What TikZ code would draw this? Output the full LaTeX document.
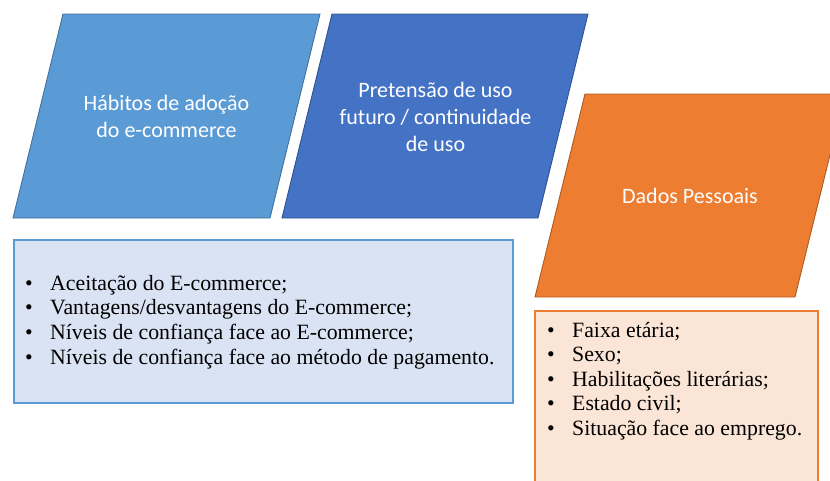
\documentclass[tikz,border=0pt]{standalone}
\usepackage{fontspec}
\setmainfont{Liberation Serif}
\newfontfamily\headfont{Carlito}
\usetikzlibrary{positioning}

\definecolor{habfill}{HTML}{5B9BD5}
\definecolor{habline}{HTML}{41719C}
\definecolor{prefill}{HTML}{4472C4}
\definecolor{preline}{HTML}{2F528F}
\definecolor{datfill}{HTML}{ED7D31}
\definecolor{datline}{HTML}{AE5A21}
\definecolor{listblue}{HTML}{DAE3F3}
\definecolor{listblueline}{HTML}{5B9BD5}
\definecolor{listorange}{HTML}{FBE5D6}
\definecolor{listorangeline}{HTML}{ED7D31}

\tikzset{
  head/.style={text=white, align=center, font=\headfont\fontsize{22}{27}\selectfont, inner sep=0pt},
  listtext/.style={align=left, anchor=west, inner sep=0pt, font=\fontsize{21.8}{24.6}\selectfont},
  shapeline/.style={line width=0.9pt},
  boxline/.style={line width=1.3pt}
}
\newcommand{\itm}[1]{\makebox[25pt][l]{\textbullet}#1}

\begin{document}
\begin{tikzpicture}[x=1pt, y=-1pt]
    \useasboundingbox (0,0) rectangle (830,480);

    % parallelograms
    \filldraw[shapeline, fill=habfill, draw=habline] (63,14) -- (320,14) -- (270,218) -- (13,218) -- cycle;
    \filldraw[shapeline, fill=prefill, draw=preline] (332,14) -- (588,14) -- (538,218) -- (282,218) -- cycle;
    \filldraw[shapeline, fill=datfill, draw=datline] (585,94) -- (845,94) -- (795,297) -- (535,297) -- cycle;

    \node[head] (habitos) at (166.5,116) {Hábitos de adoção\\do e-commerce};
    \node[head] (pretensao) at (435.5,117) {Pretensão de uso\\futuro / continuidade\\de uso};
    \node[head] (dados) at (690,195.5) {Dados Pessoais};

    % lists
    \filldraw[boxline, fill=listblue, draw=listblueline] (14,240) rectangle (513,403);
    \filldraw[boxline, fill=listorange, draw=listorangeline] (535,311) rectangle (818,490);

    \node[listtext] (habitoslist) at (25,322) {\itm{Aceitação do E-commerce;}\\
      \itm{Vantagens/desvantagens do E-commerce;}\\
      \itm{Níveis de confiança face ao E-commerce;}\\
      \itm{Níveis de confiança face ao método de pagamento.}};
    \node[listtext] (dadoslist) at (547,381) {\itm{Faixa etária;}\\
      \itm{Sexo;}\\
      \itm{Habilitações literárias;}\\
      \itm{Estado civil;}\\
      \itm{Situação face ao emprego.}};
\end{tikzpicture}
\end{document}
